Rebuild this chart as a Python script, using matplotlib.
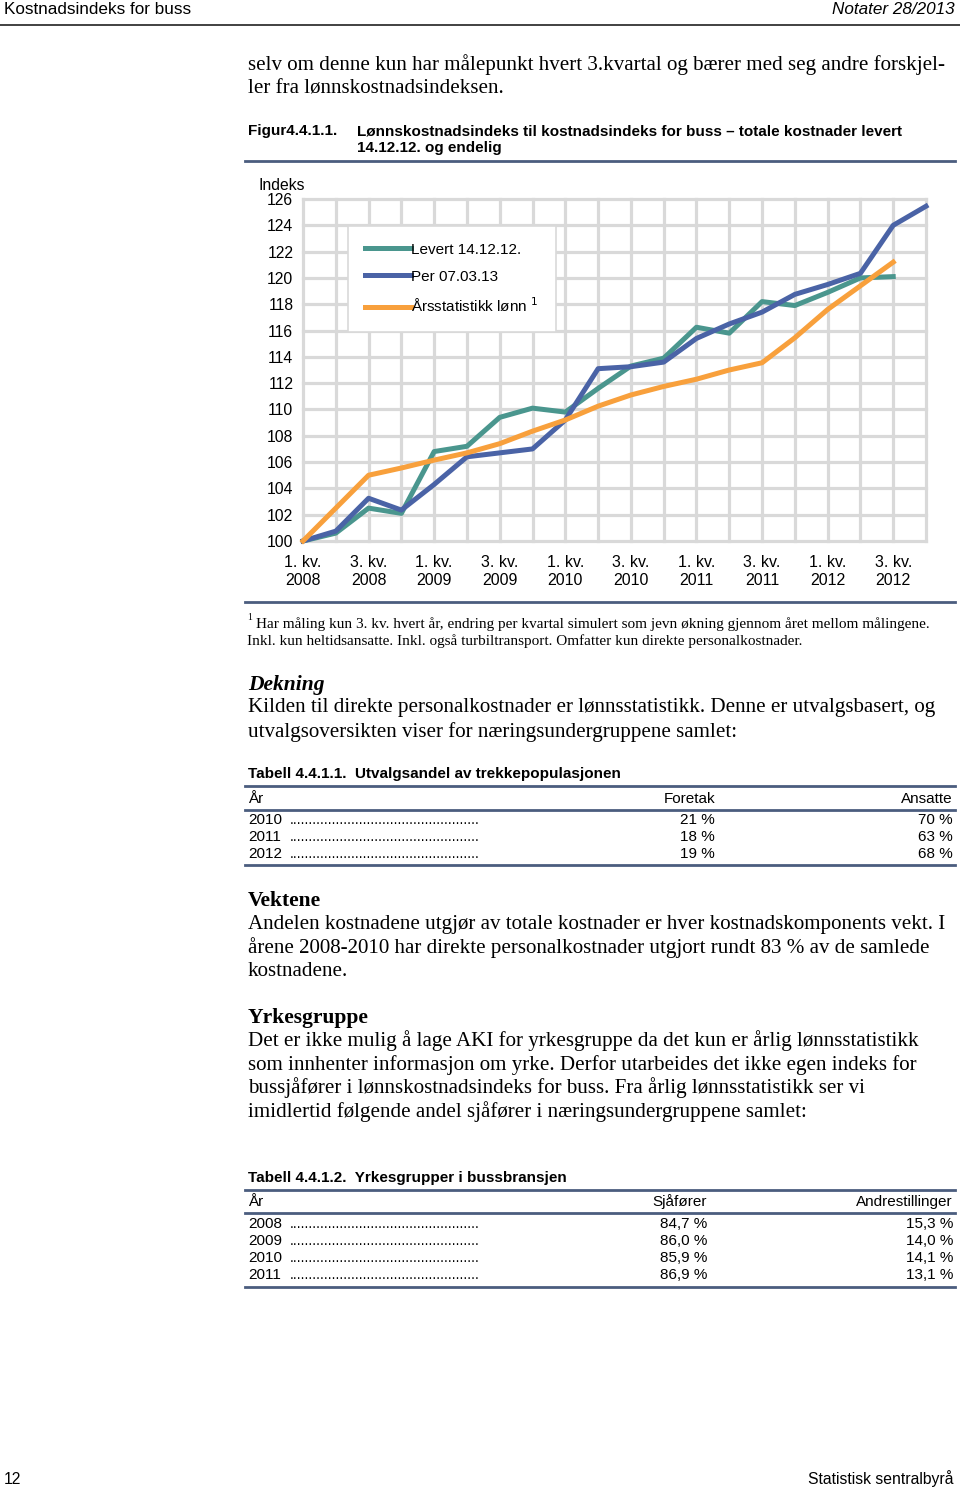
import matplotlib
matplotlib.use('Agg')
import matplotlib.pyplot as plt

W, H = 960, 1489

# Data
kvartal = list(range(20))  # 1. kv. 2008 .. 4. kv. 2012
levert = [100.0, 100.6, 102.5, 102.1, 106.8, 107.2, 109.4, 110.1, 109.8, 111.6,
          113.3, 113.9, 116.25, 115.8, 118.2, 117.9, 118.9, 120.0, 120.1]
per_070313 = [100.0, 100.75, 103.25, 102.35, 104.3, 106.4, 106.7, 107.0, 109.2, 113.1,
              113.25, 113.6, 115.4, 116.5, 117.4, 118.75, 119.5, 120.35, 124.0, 125.45]
aarsstat = [100.0, 102.5, 105.0, 105.55, 106.15, 106.7, 107.4, 108.35, 109.2, 110.25,
            111.1, 111.75, 112.3, 113.0, 113.55, 115.45, 117.6, 119.4, 121.2]
serie_navn = ['Levert 14.12.12.', 'Per 07.03.13', 'Årsstatistikk lønn $^{1}$']
xtick_labels = ['1. kv.\n2008', '3. kv.\n2008', '1. kv.\n2009', '3. kv.\n2009', '1. kv.\n2010',
                '3. kv.\n2010', '1. kv.\n2011', '3. kv.\n2011', '1. kv.\n2012', '3. kv.\n2012']
yticks = list(range(100, 127, 2))

# Tabell 4.4.1.1
t1_aar = ['2010', '2011', '2012']
t1_foretak = ['21 %', '18 %', '19 %']
t1_ansatte = ['70 %', '63 %', '68 %']
# Tabell 4.4.1.2
t2_aar = ['2008', '2009', '2010', '2011']
t2_sjafor = ['84,7 %', '86,0 %', '85,9 %', '86,9 %']
t2_andre = ['15,3 %', '14,0 %', '14,1 %', '13,1 %']

SANS = ['Liberation Sans', 'DejaVu Sans']
SERIF = ['Liberation Serif', 'DejaVu Serif']
plt.rcParams['font.family'] = SANS

fig = plt.figure(figsize=(W / 100, H / 100), dpi=100)


def tx(x, y, s, **kw):
    kw.setdefault('va', 'center')
    kw.setdefault('family', SANS)
    fig.text(x / W, 1 - y / H, s, **kw)


def hline(x0, x1, y, color='#3c4a63', lw=1.5):
    fig.add_artist(plt.Line2D([x0 / W, x1 / W], [1 - y / H, 1 - y / H],
                              color=color, lw=lw, transform=fig.transFigure))


# header
tx(4, 9, 'Kostnadsindeks for buss', fontsize=12.3)
tx(955, 9, 'Notater 28/2013', fontsize=12.3, ha='right', style='italic')
hline(0, 960, 25, color='#333333', lw=1.3)

# body text
body = dict(family=SERIF, fontsize=15.1)
tx(248, 65, 'selv om denne kun har målepunkt hvert 3.kvartal og bærer med seg andre forskjel-', **body)
tx(248, 89, 'ler fra lønnskostnadsindeksen.', **body)

tx(248, 131, 'Figur4.4.1.1.', fontsize=11, weight='bold')
tx(357, 131, 'Lønnskostnadsindeks til kostnadsindeks for buss – totale kostnader levert',
   fontsize=11, weight='bold')
tx(357, 148, '14.12.12. og endelig', fontsize=11, weight='bold')
hline(245, 955, 161, color='#4b5d7e', lw=2)

tx(258, 185, 'Indeks', fontsize=11.3)

# chart
ax_l, ax_r, ax_t, ax_b = 303, 926, 199, 541
ax = fig.add_axes([ax_l / W, 1 - ax_b / H, (ax_r - ax_l) / W, (ax_b - ax_t) / H])
ax.plot(kvartal[:len(levert)], levert, color='#4a968e', lw=3.6, label=serie_navn[0],
        solid_joinstyle='round', clip_on=False, zorder=3)
ax.plot(kvartal[:len(per_070313)], per_070313, color='#4a63a6', lw=3.6, label=serie_navn[1],
        solid_joinstyle='round', clip_on=False, zorder=4)
ax.plot(kvartal[:len(aarsstat)], aarsstat, color='#f8a03c', lw=3.6, label=serie_navn[2],
        solid_joinstyle='round', clip_on=False, zorder=5)
ax.set_xlim(0, 19)
ax.set_ylim(100, 126)
ax.set_xticks(kvartal)
labs = []
for i in kvartal:
    labs.append(xtick_labels[i // 2] if i % 2 == 0 else '')
ax.set_xticklabels(labs, fontsize=11.5, linespacing=1.28)
ax.set_yticks(yticks)
ax.set_yticklabels([str(v) for v in yticks], fontsize=11.3)
ax.tick_params(length=0)
ax.tick_params(axis='x', pad=10)
ax.tick_params(axis='y', pad=7)
ax.grid(True, color='#d9d9d9', lw=2.3)
for gl in ax.get_xgridlines() + ax.get_ygridlines():
    gl.set_clip_on(False)
ax.set_axisbelow(True)
for s in ax.spines.values():
    s.set_visible(False)
leg = ax.legend(loc='upper left', bbox_to_anchor=((348 - ax_l) / (ax_r - ax_l), (ax_b - 226) / (ax_b - ax_t)),
                fontsize=11, frameon=True, fancybox=False, edgecolor='#d9d9d9', framealpha=1,
                handlelength=3.0, handletextpad=0.05, labelspacing=0.85, borderpad=1.1,
                borderaxespad=0)
leg.get_frame().set_linewidth(1.2)

hline(245, 955, 602, color='#4b5d7e', lw=2)

# footnote
tx(247, 618, '1', family=SERIF, fontsize=7)
tx(256, 624, 'Har måling kun 3. kv. hvert år, endring per kvartal simulert som jevn økning gjennom året mellom målingene.',
   family=SERIF, fontsize=11)
tx(247, 641, 'Inkl. kun heltidsansatte. Inkl. også turbiltransport. Omfatter kun direkte personalkostnader.',
   family=SERIF, fontsize=11)

tx(248, 685, 'Dekning', family=SERIF, fontsize=15.5, weight='bold', style='italic')
tx(248, 708, 'Kilden til direkte personalkostnader er lønnsstatistikk. Denne er utvalgsbasert, og', **body)
tx(248, 732, 'utvalgsoversikten viser for næringsundergruppene samlet:', **body)

dots = '.' * 49

# table 1
tx(248, 774, 'Tabell 4.4.1.1.  Utvalgsandel av trekkepopulasjonen', fontsize=11, weight='bold')
hline(245, 955, 786, color='#4b5d7e', lw=2)
tx(248, 799, 'År', fontsize=11)
tx(715, 799, 'Foretak', fontsize=11, ha='right')
tx(953, 799, 'Ansatte', fontsize=11, ha='right')
hline(245, 955, 810, color='#4b5d7e', lw=2)
for i in range(len(t1_aar)):
    y = 820 + 17 * i
    tx(248, y, t1_aar[i], fontsize=11)
    tx(290, y, dots, fontsize=10.2)
    tx(715, y, t1_foretak[i], fontsize=11, ha='right')
    tx(953, y, t1_ansatte[i], fontsize=11, ha='right')
hline(245, 955, 865, color='#4b5d7e', lw=2)

tx(248, 901, 'Vektene', family=SERIF, fontsize=15.5, weight='bold')
tx(248, 925, 'Andelen kostnadene utgjør av totale kostnader er hver kostnadskomponents vekt. I', **body)
tx(248, 948, 'årene 2008-2010 har direkte personalkostnader utgjort rundt 83 % av de samlede', **body)
tx(248, 972, 'kostnadene.', **body)

tx(248, 1018, 'Yrkesgruppe', family=SERIF, fontsize=15.5, weight='bold')
tx(248, 1041, 'Det er ikke mulig å lage AKI for yrkesgruppe da det kun er årlig lønnsstatistikk', **body)
tx(248, 1065, 'som innhenter informasjon om yrke. Derfor utarbeides det ikke egen indeks for', **body)
tx(248, 1088, 'bussjåfører i lønnskostnadsindeks for buss. Fra årlig lønnsstatistikk ser vi', **body)
tx(248, 1112, 'imidlertid følgende andel sjåfører i næringsundergruppene samlet:', **body)

# table 2
tx(248, 1178, 'Tabell 4.4.1.2.  Yrkesgrupper i bussbransjen', fontsize=11, weight='bold')
hline(245, 955, 1190, color='#4b5d7e', lw=2)
tx(248, 1202, 'År', fontsize=11)
tx(707, 1202, 'Sjåfører', fontsize=11, ha='right')
tx(953, 1202, 'Andrestillinger', fontsize=11, ha='right')
hline(245, 955, 1213, color='#4b5d7e', lw=2)
for i in range(len(t2_aar)):
    y = 1224 + 17 * i
    tx(248, y, t2_aar[i], fontsize=11)
    tx(290, y, dots, fontsize=10.2)
    tx(707, y, t2_sjafor[i], fontsize=11, ha='right')
    tx(953, y, t2_andre[i], fontsize=11, ha='right')
hline(245, 955, 1287, color='#4b5d7e', lw=2)

# footer
tx(4, 1479, '12', fontsize=11.3)
tx(953, 1479, 'Statistisk sentralbyrå', fontsize=11.3, ha='right')

fig.savefig('out.png', dpi=100)
